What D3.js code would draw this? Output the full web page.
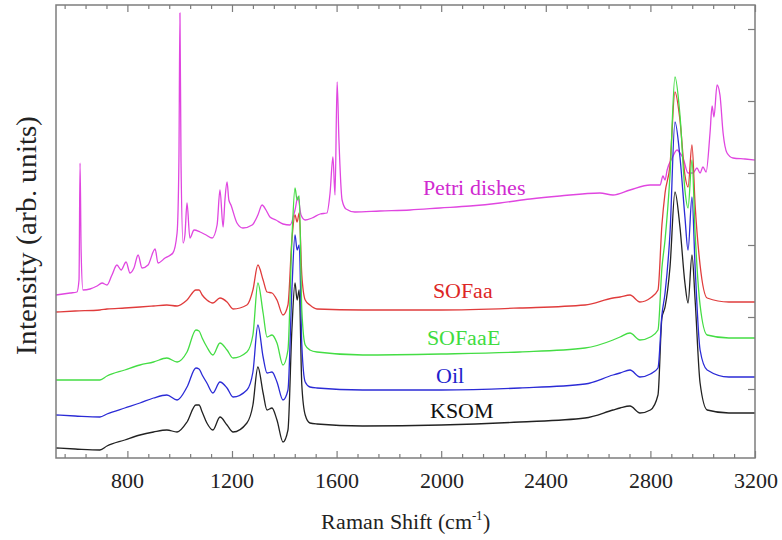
<!DOCTYPE html>
<meta charset="utf-8">
<style>
  @font-face { font-family: "ChartSerif"; src: local("Liberation Serif"), local("LiberationSerif"), local("Tinos"), local("FreeSerif"), local("DejaVu Serif"); }
  body { margin: 0; background: #fff; }
</style>
<div id="chart"></div>
<script src="https://d3js.org/d3.v7.min.js"></script>
<script>
  // Raman shift (cm-1) grid shared by the four lipid spectra
  var lipidShift = [527, 600, 695, 722, 790, 848, 900, 951, 990, 1028, 1062, 1074, 1086, 1104, 1127,
    1154, 1181, 1204, 1257, 1280, 1299, 1319, 1334, 1353, 1372, 1395, 1414, 1429, 1441, 1449, 1457,
    1467, 1480, 1498, 1525, 1700, 2000, 2300, 2550, 2657, 2684, 2722, 2760, 2800, 2829, 2844, 2856,
    2875, 2894, 2913, 2932, 2944, 2959, 2971, 2990, 3017, 3100, 3200];

  // intensities (arb. units), stacked with their offsets as plotted
  var ksom = [13, 12, 11, 15, 21, 26, 29, 31, 29, 39, 56, 56, 49, 38, 31,
    44, 36, 29, 38, 56, 94, 68, 51, 53, 41, 19, 31, 131, 178, 161, 171,
    76, 46, 38, 37, 35, 36, 39, 43, 51, 53, 55, 48, 51, 66, 143, 154,
    194, 269, 234, 178, 158, 206, 161, 78, 51, 48, 48];
  var oil = [46, 45, 44, 47, 53, 58, 63, 66, 61, 74, 93, 92, 86, 78, 68,
    79, 73, 64, 71, 89, 136, 104, 88, 89, 79, 61, 71, 171, 226, 211, 216,
    116, 79, 74, 73, 71, 71, 73, 77, 86, 88, 91, 84, 87, 93, 146, 168,
    228, 339, 304, 244, 211, 264, 194, 111, 91, 84, 84];
  var sofaae = [81, 81, 81, 85, 91, 96, 99, 103, 99, 109, 131, 130, 123, 114, 106,
    118, 111, 103, 109, 126, 178, 148, 124, 126, 118, 96, 111, 221, 273, 261, 265,
    151, 116, 111, 109, 106, 107, 109, 113, 121, 124, 128, 121, 124, 131, 193, 221,
    286, 384, 346, 271, 253, 301, 228, 156, 126, 123, 123];
  var sofaa = [149, 150, 151, 152, 153, 154, 155, 156, 155, 161, 171, 171, 166, 161, 158,
    163, 159, 152, 156, 171, 196, 181, 169, 168, 161, 146, 156, 221, 246, 239, 248,
    186, 161, 156, 152, 151, 151, 153, 156, 163, 164, 166, 159, 163, 171, 236, 268,
    296, 369, 341, 286, 274, 316, 256, 196, 163, 159, 159];

  // polystyrene Petri dish spectrum
  var petriShift = [527, 581, 607, 615, 619, 623, 630, 657, 684, 703, 722, 741, 760, 776, 795,
    810, 825, 841, 856, 879, 906, 917, 944, 974, 990, 997, 1001, 1005, 1013, 1020, 1028, 1039,
    1055, 1078, 1101, 1124, 1143, 1154, 1166, 1173, 1181, 1188, 1196, 1219, 1242, 1277, 1299,
    1315, 1330, 1345, 1368, 1395, 1422, 1441, 1452, 1464, 1480, 1506, 1537, 1563, 1575, 1586,
    1594, 1602, 1609, 1621, 1636, 1670, 1766, 1881, 1995, 2110, 2225, 2340, 2454, 2607, 2657,
    2722, 2799, 2837, 2848, 2856, 2864, 2883, 2902, 2913, 2925, 2944, 2963, 2978, 2990, 3001,
    3013, 3028, 3036, 3043, 3055, 3066, 3078, 3093, 3116, 3162, 3200];
  var petri = [166, 168, 169, 181, 298, 211, 171, 172, 175, 178, 176, 186, 196, 191, 199,
    188, 193, 206, 193, 196, 212, 198, 203, 208, 228, 300, 448, 300, 218, 226, 258, 223,
    231, 229, 226, 223, 236, 271, 234, 261, 279, 261, 256, 238, 233, 236, 246,
    256, 251, 244, 241, 237, 236, 251, 264, 246, 241, 243, 247, 248, 268, 304,
    266, 379, 321, 261, 252, 249, 250, 251, 253, 255, 258, 262, 265, 268, 266,
    271, 276, 276, 285, 281, 291, 303, 311, 308, 303, 288, 288, 293, 288, 294,
    289, 328, 355, 344, 376, 366, 328, 308, 303, 302, 301];

  var xMajor = [800, 1200, 1600, 2000, 2400, 2800, 3200];
  var yTicks = [72, 144, 216, 288, 360, 432];

  var serif = "ChartSerif, 'Liberation Serif', Tinos, FreeSerif, 'DejaVu Serif', serif",
    frameColor = "#7d7d7d";

  var W = 782, H = 540;
  var margin = {top: 5, right: 27, bottom: 82, left: 56},
    width = W - margin.left - margin.right,
    height = H - margin.top - margin.bottom;

  var svg = d3.select("#chart").append("svg")
    .attr("width", W)
    .attr("height", H)
    .style("font-family", serif);

  svg.append("rect").attr("width", W).attr("height", H).attr("fill", "#fff");

  var g = svg.append("g").attr("transform", "translate(" + margin.left + "," + margin.top + ")");

  var x = d3.scaleLinear().domain([527, 3200]).range([0, width]);
  var y = d3.scaleLinear().domain([3, 456]).range([height, 0]);

  var xMinor = d3.range(560, 3200, 80).filter(function(d) { return xMajor.indexOf(d) < 0; });

  function styleAxis(sel) {
    sel.attr("font-family", null);
    sel.select(".domain").remove();
    sel.selectAll(".tick line").attr("stroke", frameColor).attr("stroke-width", 1.2);
  }

  // bottom axis: labelled majors + minors, ticks inside
  var xAxis = g.append("g")
    .attr("transform", "translate(0," + height + ")")
    .call(d3.axisBottom(x).tickValues(xMajor).tickSize(-7).tickPadding(14).tickFormat(d3.format("d")))
    .call(styleAxis);
  xAxis.selectAll("text")
    .style("font-family", serif)
    .style("font-size", "22px")
    .attr("fill", "#222");
  g.append("g")
    .attr("transform", "translate(0," + height + ")")
    .call(d3.axisBottom(x).tickValues(xMinor).tickSize(-4).tickFormat(""))
    .call(styleAxis);

  // top mirror
  g.append("g")
    .call(d3.axisTop(x).tickValues(xMajor).tickSize(-7).tickFormat(""))
    .call(styleAxis);
  g.append("g")
    .call(d3.axisTop(x).tickValues(xMinor).tickSize(-4).tickFormat(""))
    .call(styleAxis);

  // right axis ticks only
  g.append("g")
    .attr("transform", "translate(" + width + ",0)")
    .call(d3.axisRight(y).tickValues(yTicks).tickSize(-7).tickFormat(""))
    .call(styleAxis);

  var line = d3.line()
    .x(function(d) { return x(d[0]); })
    .y(function(d) { return y(d[1]); })
    .curve(d3.curveMonotoneX);

  function pairs(xs, ys) {
    return xs.map(function(v, i) { return [v, ys[i]]; });
  }

  var series = [
    {name: "Petri dishes", color: "#e046e0", data: pairs(petriShift, petri)},
    {name: "KSOM", color: "#222222", data: pairs(lipidShift, ksom)},
    {name: "Oil", color: "#2b2bd6", data: pairs(lipidShift, oil)},
    {name: "SOFaa", color: "#e03c3c", data: pairs(lipidShift, sofaa)},
    {name: "SOFaaE", color: "#44dd44", data: pairs(lipidShift, sofaae)}
  ];

  g.selectAll(".spectrum")
    .data(series)
    .enter().append("path")
    .attr("class", "spectrum")
    .attr("fill", "none")
    .attr("stroke-width", 1.3)
    .attr("stroke-linejoin", "round")
    .attr("stroke", function(d) { return d.color; })
    .attr("d", function(d) { return line(d.data); });

  // curve labels, anchored in data space
  var labels = [
    {text: "Petri dishes", color: "#d02ad0", at: [2126, 266]},
    {text: "SOFaa", color: "#dd2626", at: [2083, 163]},
    {text: "SOFaaE", color: "#3fdc3f", at: [2087, 116]},
    {text: "Oil", color: "#2222cc", at: [2034, 78]},
    {text: "KSOM", color: "#111111", at: [2080, 43]}
  ];

  g.selectAll(".curve-label")
    .data(labels)
    .enter().append("text")
    .attr("class", "curve-label")
    .attr("x", function(d) { return x(d.at[0]); })
    .attr("y", function(d) { return y(d.at[1]); })
    .attr("text-anchor", "middle")
    .attr("fill", function(d) { return d.color; })
    .style("font-family", serif)
    .style("font-size", "22px")
    .text(function(d) { return d.text; });

  g.append("rect")
    .attr("width", width)
    .attr("height", height)
    .attr("fill", "none")
    .attr("stroke", frameColor)
    .attr("stroke-width", 1.5);

  var xt = svg.append("text")
    .attr("x", margin.left + width / 2)
    .attr("y", 529)
    .attr("text-anchor", "middle")
    .attr("fill", "#222")
    .style("font-family", serif)
    .style("font-size", "22px");
  xt.append("tspan").text("Raman Shift (cm");
  xt.append("tspan").attr("dy", -9).style("font-size", "13px").text("-1");
  xt.append("tspan").attr("dy", 9).text(")");

  svg.append("text")
    .attr("transform", "translate(36," + (margin.top + 230) + ") rotate(-90)")
    .attr("text-anchor", "middle")
    .attr("fill", "#222")
    .style("font-family", serif)
    .style("font-size", "29px")
    .text("Intensity (arb. units)");
</script>
